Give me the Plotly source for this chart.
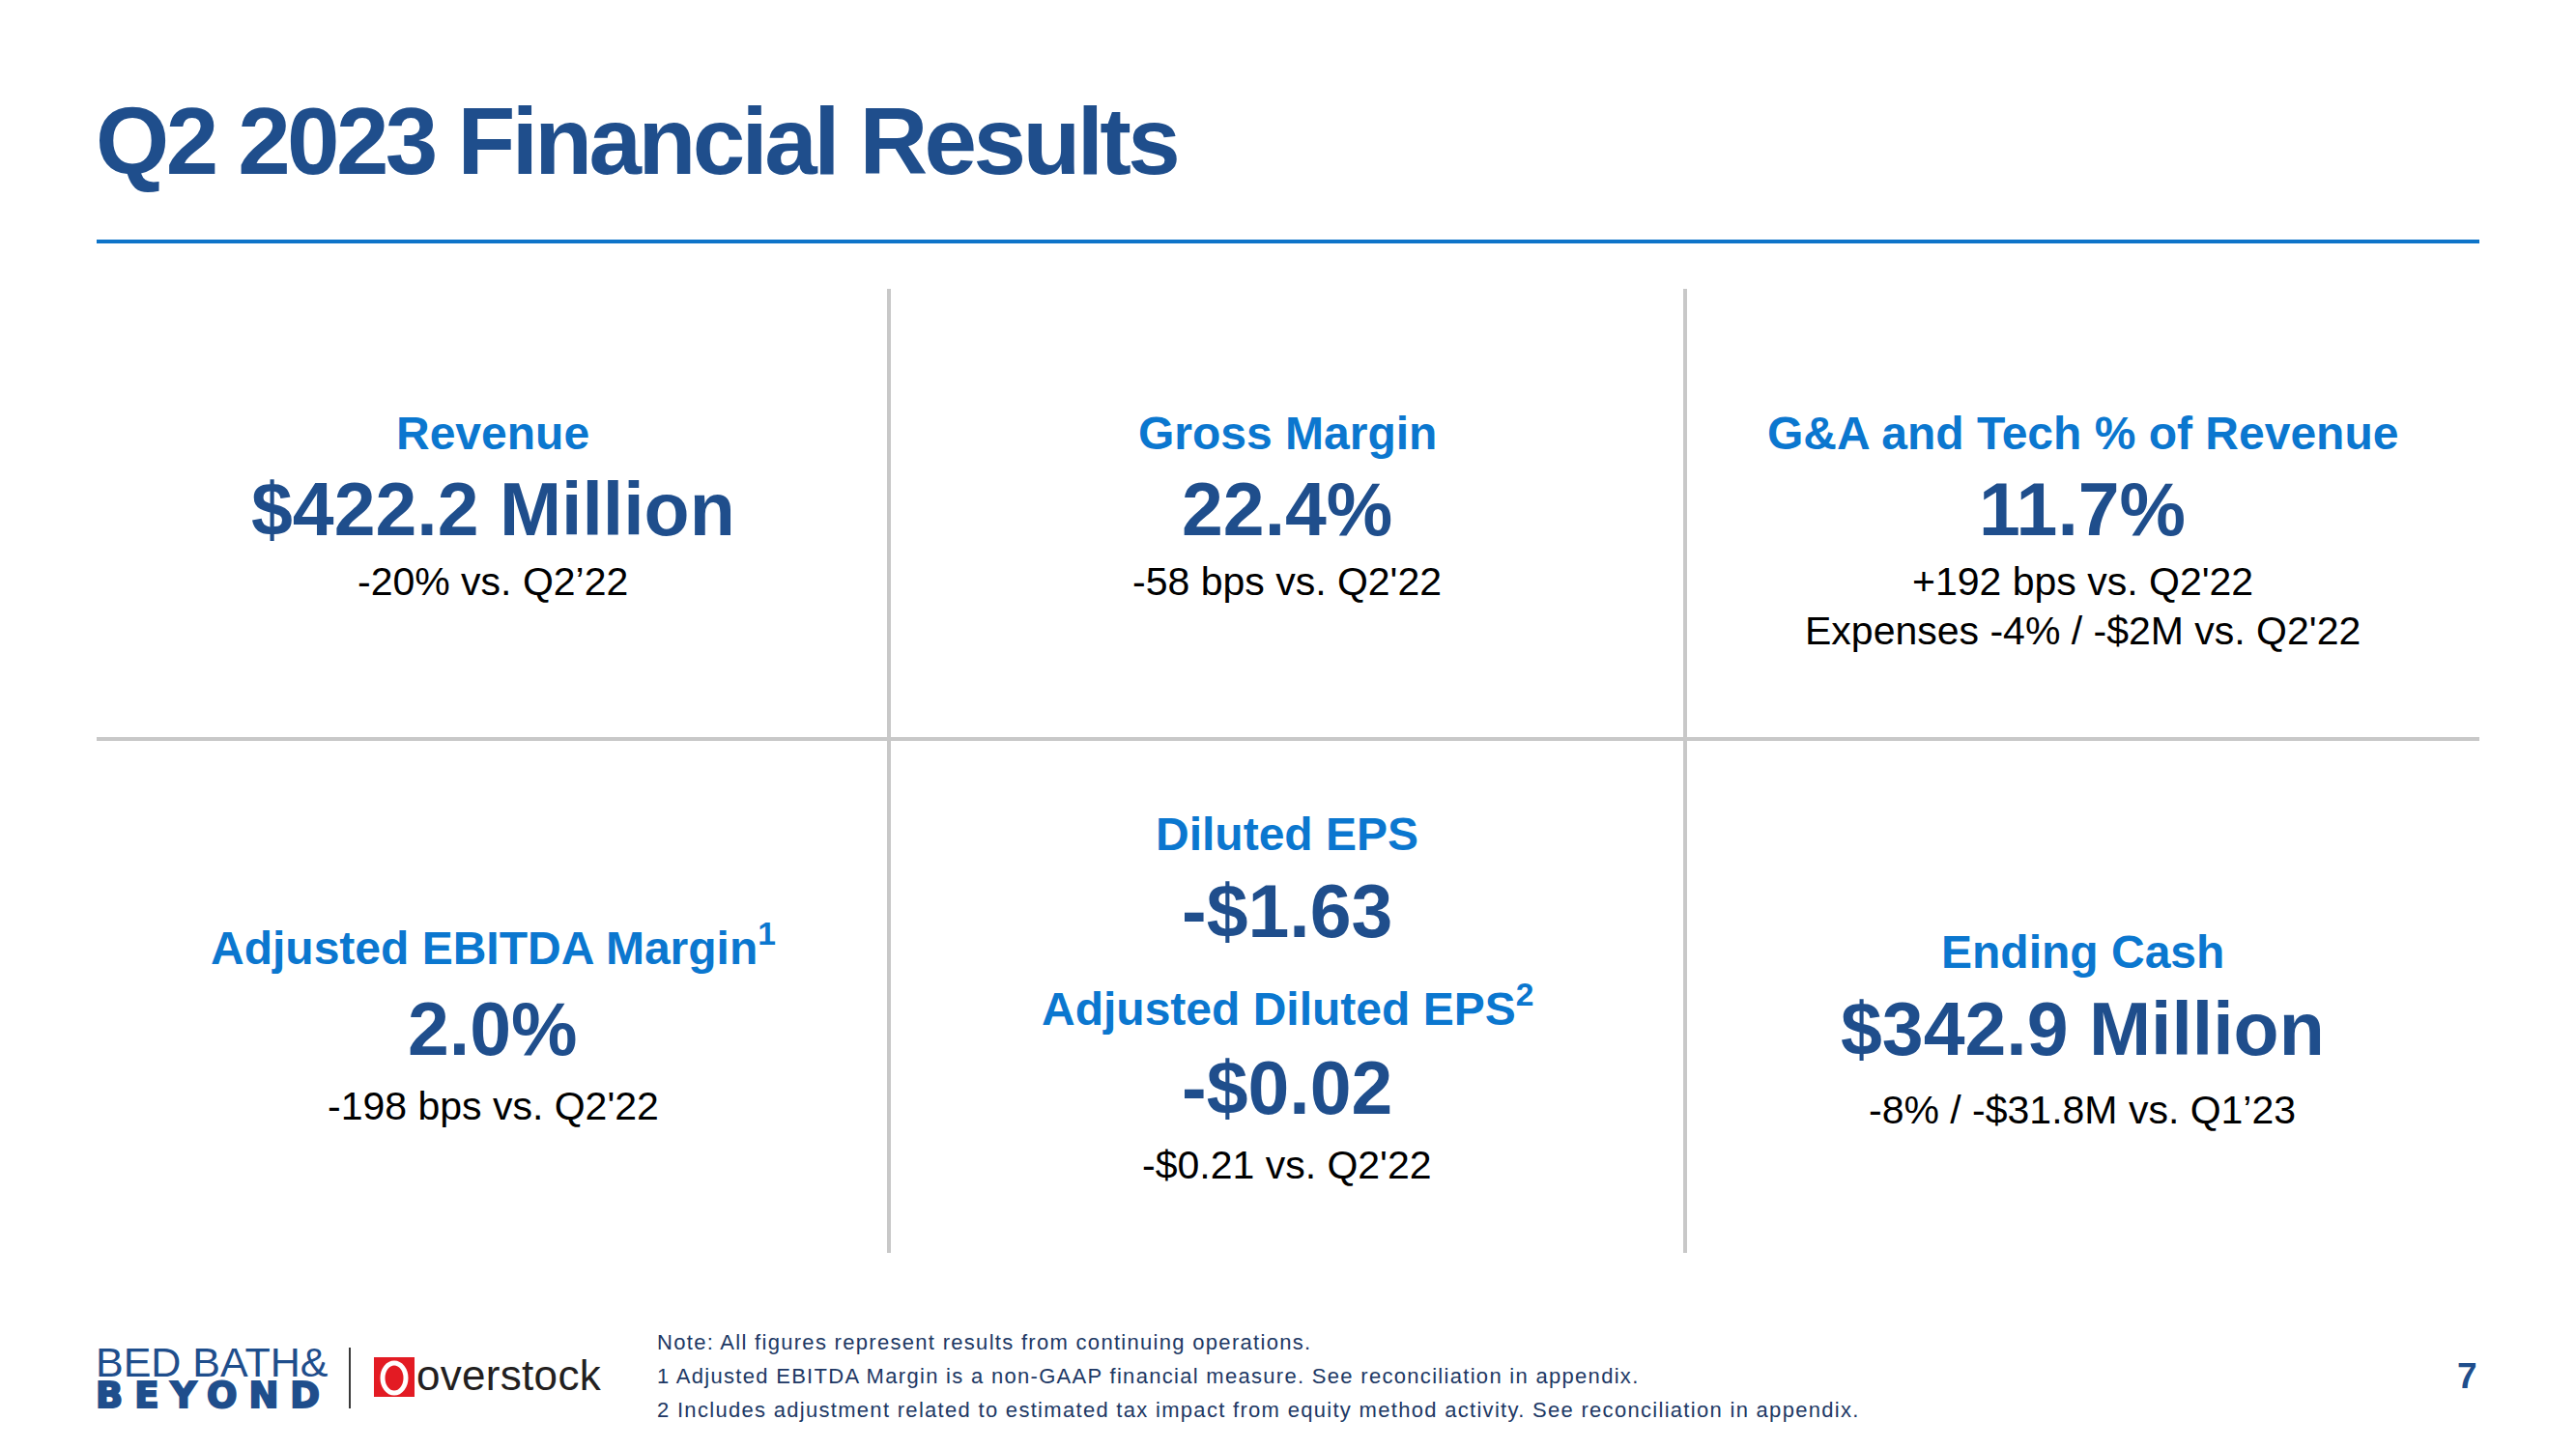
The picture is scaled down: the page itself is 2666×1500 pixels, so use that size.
import plotly.graph_objects as go

W, H = 2666, 1500
FONT = "Liberation Sans, Arial, Helvetica, sans-serif"
DARK_BLUE = "#1F4E8C"
BRIGHT_BLUE = "#0B77CF"
GRID_GRAY = "#C8C8C8"
RULE_BLUE = "#0E74C9"
NOTE_COLOR = "#203864"

# ---------------- content ----------------
title = "Q2 2023 Financial Results"

headers = ["Revenue", "Gross Margin", "G&A and Tech % of Revenue",
           "Adjusted EBITDA Margin<sup>1</sup>", "Diluted EPS", "Ending Cash"]
values = ["$422.2 Million", "22.4%", "11.7%", "2.0%", "-$1.63", "$342.9 Million"]
comparisons = [["-20% vs. Q2’22"],
               ["-58 bps vs. Q2'22"],
               ["+192 bps vs. Q2'22", "Expenses -4% / -$2M vs. Q2'22"],
               ["-198 bps vs. Q2'22"],
               [],
               ["-8% / -$31.8M vs. Q1’23"]]
adj_eps_header = "Adjusted Diluted EPS<sup>2</sup>"
adj_eps_value = "-$0.02"
adj_eps_comparison = ["-$0.21 vs. Q2'22"]

footnotes = ["Note: All figures represent results from continuing operations.",
             "1 Adjusted EBITDA Margin is a non-GAAP financial measure. See reconciliation in appendix.",
             "2 Includes adjustment related to estimated tax impact from equity method activity. See reconciliation in appendix."]
page_number = "7"
logo_line1 = "BED BATH&"
logo_line2 = "BEYOND"
logo_partner = "overstock"

# ---------------- layout constants ----------------
COL_X = [510, 1332, 2155]
COL_X = COL_X + COL_X
# (header baseline, value baseline, first comparison baseline)
PANEL_BL = [(465, 554, 616), (465, 554, 616), (465, 554, 616),
            (1002, 1092, 1159), (880, 970, None), (1002, 1092, 1163)]
ADJ_BL = (1065, 1153, 1220)
COMP_STEP = 51
HDR_SIZE, VAL_SIZE, CMP_SIZE = 48, 77, 41

annotations = []


def add_text(x, baseline, s, size, color, weight=400, anchor="center", spacing=None,
             style_extra="", family=FONT):
    sup = "<sup>" in s
    off = 0.51 if sup else 0.3465
    yc = baseline - off * size
    style = ""
    if spacing is not None:
        style += f"letter-spacing:{spacing}px;"
    style += style_extra
    if style:
        s = f'<span style="{style}">{s}</span>'
    annotations.append(dict(
        x=x / W, y=1 - yc / H, xref="paper", yref="paper", text=s,
        showarrow=False, xanchor=anchor, yanchor="middle",
        align="center" if anchor == "center" else anchor,
        borderpad=0, borderwidth=0,
        font=dict(family=family, size=size, color=color, weight=weight)))


# title
add_text(99, 180, title, 98, DARK_BLUE, weight=700, anchor="left", spacing=-3.6)

# panels
for i in range(6):
    hb, vb, cb = PANEL_BL[i]
    cx = COL_X[i]
    add_text(cx, hb, headers[i], HDR_SIZE, BRIGHT_BLUE, weight=700)
    add_text(cx, vb, values[i], VAL_SIZE, DARK_BLUE, weight=700)
    for j, c in enumerate(comparisons[i]):
        add_text(cx, cb + j * COMP_STEP, c, CMP_SIZE, "#000000")

# adjusted diluted EPS block (under Diluted EPS)
add_text(COL_X[4], ADJ_BL[0], adj_eps_header, HDR_SIZE, BRIGHT_BLUE, weight=700)
add_text(COL_X[4], ADJ_BL[1], adj_eps_value, VAL_SIZE, DARK_BLUE, weight=700)
for j, c in enumerate(adj_eps_comparison):
    add_text(COL_X[4], ADJ_BL[2] + j * COMP_STEP, c, CMP_SIZE, "#000000")

# footnotes
for j, f in enumerate(footnotes):
    add_text(680, 1397 + j * 35, f, 22, NOTE_COLOR, anchor="left", spacing=1.3)

# page number
add_text(2564, 1437, page_number, 37, DARK_BLUE, weight=700, anchor="right")

# logo: two-line wordmark as one text (line pitch set by the small base font size)
LOGO_BASE = 24.6  # 1.3 * 24.6 ~ 32px between the two baselines
logo_text = (f'<span style="font-size:43px;">{logo_line1}</span><br>'
             f'<span style="font-family:DejaVu Sans;font-weight:bold;font-size:37px;'
             f'letter-spacing:12px;stroke:{DARK_BLUE};stroke-width:2px;">{logo_line2}</span>')
annotations.append(dict(
    x=99 / W, y=1 - (1425 - 0.905 * 43) / H, xref="paper", yref="paper", text=logo_text,
    showarrow=False, xanchor="left", yanchor="top", align="left",
    borderpad=0, borderwidth=0,
    font=dict(family=FONT, size=LOGO_BASE, color=DARK_BLUE)))

add_text(431, 1439, logo_partner, 44, "#231F20", anchor="left", spacing=0.3)

# ---------------- shapes ----------------
shapes = []


def line(x0, y0, x1, y1, color, width):
    shapes.append(dict(type="line", xref="paper", yref="paper",
                       x0=x0 / W, x1=x1 / W, y0=1 - y0 / H, y1=1 - y1 / H,
                       line=dict(color=color, width=width)))


line(100, 250, 2566, 250, RULE_BLUE, 4)          # title rule
line(100, 765, 2566, 765, GRID_GRAY, 4)          # horizontal divider
line(920, 299, 920, 1297, GRID_GRAY, 4)          # vertical dividers
line(1744, 299, 1744, 1297, GRID_GRAY, 4)
line(362, 1395, 362, 1458, "#3A3A3A", 2)         # logo divider

# overstock red square with white "O"
shapes.append(dict(type="rect", xref="paper", yref="paper",
                   x0=387 / W, x1=429 / W, y0=1 - 1405 / H, y1=1 - 1446 / H,
                   fillcolor="#E31B23", line=dict(width=0)))
shapes.append(dict(type="circle", xref="paper", yref="paper",
                   x0=396 / W, x1=420 / W, y0=1 - 1411 / H, y1=1 - 1442 / H,
                   fillcolor="rgba(0,0,0,0)", line=dict(color="white", width=5)))

fig = go.Figure()
fig.update_layout(
    width=W, height=H, autosize=False,
    margin=dict(l=0, r=0, t=0, b=0),
    paper_bgcolor="white", plot_bgcolor="white",
    xaxis=dict(visible=False), yaxis=dict(visible=False),
    showlegend=False,
    annotations=annotations, shapes=shapes,
)

fig.write_html("out.html", config={"displayModeBar": False},
               post_script="document.body.style.margin='0px';")
